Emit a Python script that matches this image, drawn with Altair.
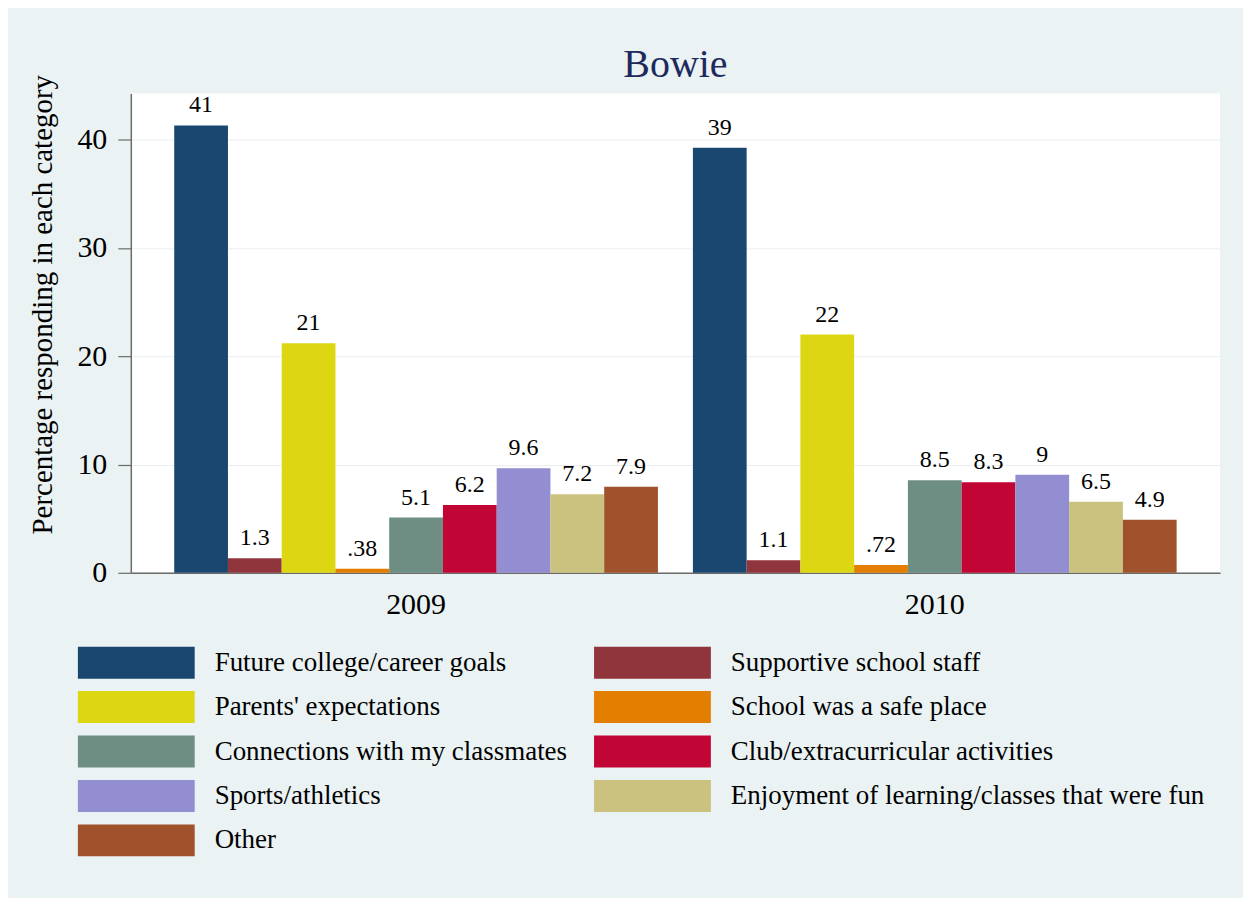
import altair as alt
import pandas as pd

years = ["2009", "2010"]
categories = [
    "Future college/career goals",
    "Supportive school staff",
    "Parents' expectations",
    "School was a safe place",
    "Connections with my classmates",
    "Club/extracurricular activities",
    "Sports/athletics",
    "Enjoyment of learning/classes that were fun",
    "Other",
]
values_2009 = [41.3, 1.35, 21.2, 0.38, 5.1, 6.25, 9.65, 7.25, 7.95]
values_2010 = [39.25, 1.15, 22.0, 0.72, 8.55, 8.35, 9.05, 6.55, 4.9]
labels_2009 = ["41", "1.3", "21", ".38", "5.1", "6.2", "9.6", "7.2", "7.9"]
labels_2010 = ["39", "1.1", "22", ".72", "8.5", "8.3", "9", "6.5", "4.9"]
colors = ["#1A476F", "#90353B", "#DDD713", "#E37E00", "#6E8E84",
          "#C10534", "#938DD2", "#CAC27E", "#A0522D"]

rows = []
for yr, vals, labs in [(years[0], values_2009, labels_2009), (years[1], values_2010, labels_2010)]:
    for c, v, l in zip(categories, vals, labs):
        rows.append({"year": yr, "category": c, "value": v, "label": l})
df = pd.DataFrame(rows)

FONT = "Times New Roman"
AXIS_GRAY = "#6A6A6A"

x_enc = alt.X(
    "year:N",
    sort=years,
    scale=alt.Scale(paddingInner=0.0674, paddingOuter=0.0837),
    axis=alt.Axis(
        title=None, labelAngle=0, ticks=False, labelPadding=17,
        labelFontSize=30, labelFont=FONT, labelColor="black",
        domain=True, domainColor=AXIS_GRAY, domainWidth=1.5, grid=False,
    ),
)
y_enc = alt.Y(
    "value:Q",
    scale=alt.Scale(domain=[0, 44.24], nice=False, zero=True),
    axis=alt.Axis(
        title="Percentage responding in each category",
        values=[0, 10, 20, 30, 40],
        labelFontSize=30, labelFont=FONT, labelColor="black",
        labelPadding=11, tickSize=13, tickColor=AXIS_GRAY, tickWidth=1.2,
        domainColor=AXIS_GRAY, domainWidth=1.5,
        grid=True, gridColor="#E8EEF0", gridWidth=1,
        titleFont=FONT, titleFontSize=29, titleFontWeight="normal",
        titleColor="black", titleX=-79, titleY=211, titleAngle=270,
        titleAlign="center", titleBaseline="alphabetic",
    ),
)

base = alt.Chart(df).encode(
    x=x_enc,
    y=y_enc,
    xOffset=alt.XOffset("category:N", sort=categories,
                        scale=alt.Scale(paddingInner=0, paddingOuter=0)),
)

bars = base.mark_bar(stroke=None).encode(
    color=alt.Color(
        "category:N",
        sort=categories,
        scale=alt.Scale(domain=categories, range=colors),
        legend=alt.Legend(
            title=None, orient="none", legendX=-53, legendY=554,
            direction="horizontal", columns=2, columnPadding=26, rowPadding=12.5,
            symbolType="M-1,-1H6.3125V1H-1Z", symbolSize=1024,
            symbolStrokeWidth=0, symbolOpacity=1,
            labelFont=FONT, labelFontSize=27, labelColor="black",
            labelOffset=105, labelLimit=800, padding=0,
        ),
    ),
)

text = base.mark_text(
    baseline="alphabetic", dy=-13, fontSize=24, font=FONT, color="black"
).encode(
    text="label:N",
)

chart = alt.layer(bars, text).properties(
    width=1091,
    height=480,
    title=alt.TitleParams(
        "Bowie", font=FONT, fontSize=40, fontWeight="normal",
        color="#1C2A5C", anchor="middle", frame="group",
        baseline="alphabetic", offset=16, dy=59,
    ),
    autosize=alt.AutoSizeParams(type="none"),
    padding={"left": 123, "top": 85, "right": 23, "bottom": 325},
    background="#EAF2F3",
).configure(font=FONT).configure_axis(
    labelFont=FONT, titleFont=FONT
).configure_text(font=FONT).configure_view(fill="white", stroke=None)

chart.save("out.html", embed_options={"renderer": "svg", "actions": False})
